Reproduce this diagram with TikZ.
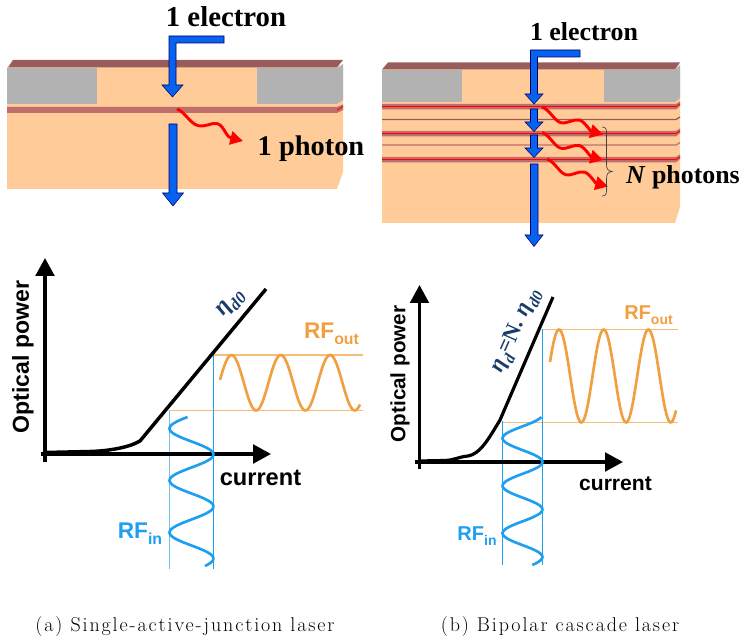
\documentclass[tikz,border=0pt]{standalone}
\usepackage{fontspec}
\usepackage{tikz}
\usetikzlibrary{arrows.meta}
\newfontfamily\serifbold{Liberation Serif}
\newfontfamily\sansbold{Liberation Sans}
\newfontfamily\capserif[LetterSpace=9.5]{Latin Modern Roman}
\newcommand{\rfsub}[1]{\raisebox{-0.28em}{\fontsize{0.7em}{0.7em}\selectfont #1}}
\definecolor{peach}{RGB}{255,204,153}
\definecolor{capgray}{RGB}{178,178,178}
\definecolor{capbrown}{RGB}{153,92,92}
\definecolor{bandrose}{RGB}{192,110,108}
\definecolor{elecblue}{RGB}{8,98,240}
\definecolor{rforange}{RGB}{240,160,64}
\definecolor{rfblue}{RGB}{30,159,240}
\definecolor{etanavy}{RGB}{25,60,110}
\tikzset{
  elecshape/.style={fill=elecblue,draw=black!60!blue,line width=0.4pt},
  photonline/.style={draw=red,line width=2.2pt,-{Triangle[length=9.5pt,width=10pt]}},
  axisline/.style={line width=2.6pt,-{Triangle[length=13.5pt,width=14pt]}},
  gaincurve/.style={line width=2.6pt},
  orangeguide/.style={draw=rforange!70,line width=0.8pt},
  blueguide/.style={draw=rfblue,line width=0.7pt},
  orangewave/.style={draw=rforange,line width=2pt},
  bluewave/.style={draw=rfblue,line width=2pt},
  eleclabel/.style={font=\serifbold\bfseries,inner sep=0pt},
  rflabel/.style={font=\sansbold\bfseries,inner sep=0pt},
  capnote/.style={font=\capserif\fontsize{15}{17}\selectfont,inner sep=0pt}
}
\begin{document}
\begin{tikzpicture}[x=0.75pt,y=0.75pt,yscale=-1,xscale=1]
\useasboundingbox (0,0) rectangle (740,641);

%Left wafer
\fill [peach] (7,67) -- (343,67) -- (343,172) -- (337,189) -- (7,189) -- cycle ;
\fill [capgray] (7,68) -- (97,68) -- (97,104) -- (7,104) -- cycle ;
\fill [capgray] (257,68) -- (337,68) -- (343,64) -- (343,100) -- (337,104) -- (257,104) -- cycle ;
\fill [capbrown] (13,60) -- (343,60) -- (337,67.5) -- (8,67.5) -- cycle ;
\fill [bandrose] (7,107) -- (337,107) -- (343,104.5) -- (343,110) -- (337,113) -- (7,113) -- cycle ;
\draw [red,line width=0.6pt] (337,110) -- (343,106.5) ;

%Left electron arrows
\draw [elecshape] (224,36) -- (224,43) -- (176,43) -- (176,85) -- (183,85) -- (172.5,97) -- (162,85) -- (169,85) -- (169,36) -- cycle ;
\draw [elecshape] (169,124) -- (177,124) -- (177,193) -- (183.5,193) -- (173,206) -- (162.5,193) -- (169,193) -- cycle ;

%Left photon
\coordinate (photonAstart) at (177,109);
\coordinate (photonAend) at (243,141);
\draw [photonline] (photonAstart) .. controls (186,112) and (191,127) .. (202,126) .. controls (212,125) and (216,120) .. (222,127) .. controls (226,132) and (227,137) .. (photonAend) ;

\node [eleclabel,font=\serifbold\bfseries\fontsize{21.6}{24}\selectfont] (electronA) at (226,17) {1 electron};
\node [eleclabel,font=\serifbold\bfseries\fontsize{21.3}{24}\selectfont] (photonA) at (311,149) {1 photon};

%Right wafer
\fill [peach] (382,69) -- (680,69) -- (680,207) -- (675,223) -- (382,223) -- cycle ;
\fill [capgray] (382,70) -- (462,70) -- (462,102) -- (382,102) -- cycle ;
\fill [capgray] (604,70) -- (675,70) -- (680,65) -- (680,98) -- (675,102) -- (604,102) -- cycle ;
\fill [capbrown] (388,62.5) -- (680,62.5) -- (675,69.5) -- (382,69.5) -- cycle ;
%Right bands
\foreach \bandy in {104,131,157}
  {
  \fill [bandrose] (382,\bandy) -- (676,\bandy) -- (680,\bandy-2.5) -- (680,\bandy+2) -- (676,\bandy+5.5) -- (382,\bandy+5.5) -- cycle ;
  \draw [red,line width=0.7pt] (382,\bandy+2.5) -- (676,\bandy+2.5) -- (680,\bandy) ;
  }
\draw [capbrown,line width=1pt] (382,119.5) -- (676,119.5) -- (680,117) ;
\draw [bandrose,line width=0.9pt] (382,145) -- (676,145) -- (680,142.5) ;

%Right electron arrows
\draw [elecshape] (580,50) -- (580,57) -- (537.5,57) -- (537.5,94) -- (543,94) -- (534,104) -- (525,94) -- (530.5,94) -- (530.5,50) -- cycle ;
\draw [elecshape] (530.5,109) -- (537.5,109) -- (537.5,122) -- (543,122) -- (534,131.5) -- (525,122) -- (530.5,122) -- cycle ;
\draw [elecshape] (530.5,135) -- (537.5,135) -- (537.5,148) -- (543,148) -- (534,157.5) -- (525,148) -- (530.5,148) -- cycle ;
\draw [elecshape] (530.5,164) -- (538,164) -- (538,235) -- (543,235) -- (534,246.5) -- (525,235) -- (530.5,235) -- cycle ;

%Right photons
\foreach \pname/\px/\py in {B/542/107,C/542/132.5,D/547/159}
  {
  \coordinate (photon\pname start) at (\px,\py);
  \coordinate (photon\pname end) at (\px+61,\py+27.5);
  \draw [photonline] (photon\pname start) .. controls (\px+9,\py+3) and (\px+13,\py+17) .. (\px+22,\py+16) .. controls (\px+32,\py+14) and (\px+36,\py+10) .. (\px+42,\py+16) .. controls (\px+47,\py+21) and (\px+48,\py+24) .. (photon\pname end) ;
  }

%Brace
\draw [black!75,line width=0.5pt] (602,127) .. controls (606,127) and (606.5,129) .. (606.5,133) -- (606.5,164) .. controls (606.5,169) and (608,171) .. (612,171.5) .. controls (608,172) and (606.5,174) .. (606.5,179) -- (606.5,190) .. controls (606.5,194) and (606,196) .. (602,196) ;

\node [eleclabel,font=\serifbold\bfseries\fontsize{19.4}{22}\selectfont] (electronB) at (584,32) {1 electron};
\node [eleclabel,font=\serifbold\bfseries\fontsize{19.4}{22}\selectfont] (photonB) at (683,177) {\textit{N} photons};

%Left plot
\coordinate (yaxAfoot) at (45,462);
\coordinate (yaxAtip) at (45,258);
\coordinate (xaxAfoot) at (41,454);
\coordinate (xaxAtip) at (271,454);
\draw [orangeguide] (213,355) -- (363,355) ;
\draw [orangeguide] (169,410.5) -- (363,410.5) ;
\draw [blueguide,rfblue!65,line width=1pt] (169.5,411) -- (169.5,569) ;
\draw [blueguide] (213.5,355) -- (213.5,569) ;
\draw [axisline] (yaxAfoot) -- (yaxAtip) ;
\draw [axisline] (xaxAfoot) -- (xaxAtip) ;
\draw [gaincurve] (45,452.5) -- (90,451.5) .. controls (110,451) and (130,447) .. (140,441) -- (266,289) ;
\draw [orangewave] plot [domain=220:360,samples=90,smooth] (\x,{382.75-27.75*cos(7.302*(\x-231.5))}) ;
\draw [bluewave] plot [domain=417:566,samples=90,smooth] ({191.5+22*cos(6.923*(\x-454.5))},\x) ;

\node [rflabel,rotate=90,font=\sansbold\bfseries\fontsize{17.3}{20}\selectfont] (powerA) at (23,357) {Optical power};
\node [rflabel,font=\sansbold\bfseries\fontsize{17.7}{20}\selectfont] (currentA) at (260.5,478) {current};
\node [rflabel,text=rforange,font=\sansbold\bfseries\fontsize{17}{20}\selectfont] (rfoutA) at (331.5,334) {RF\rfsub{out}};
\node [rflabel,text=rfblue,font=\sansbold\bfseries\fontsize{17}{20}\selectfont] (rfinA) at (140,534) {RF\rfsub{in}};
\node [inner sep=0pt,text=etanavy,rotate=50,font=\serifbold\bfseries\fontsize{18}{20}\selectfont] (etaA) at (231,304) {\textit{η\rfsub{d0}}};

%Right plot
\coordinate (yaxBfoot) at (419.5,469);
\coordinate (yaxBtip) at (419.5,285);
\coordinate (xaxBfoot) at (415,462);
\coordinate (xaxBtip) at (623,462);
\draw [orangeguide] (542,329.5) -- (678,329.5) ;
\draw [orangeguide] (502,422.5) -- (678,422.5) ;
\draw [blueguide] (502.5,421) -- (502.5,565) ;
\draw [blueguide] (542.5,329) -- (542.5,565) ;
\draw [axisline,line width=2.4pt] (yaxBfoot) -- (yaxBtip) ;
\draw [axisline,line width=2.4pt] (xaxBfoot) -- (xaxBtip) ;
\draw [gaincurve,line width=2.4pt] (420,461) -- (445,460.5) .. controls (455,460) and (458,457) .. (468,456) .. controls (480,454) and (488,440) .. (500,420) -- (553,297) ;
\draw [orangewave] plot [domain=550:676,samples=90,smooth] (\x,{376-46.5*cos(8.054*(\x-559))}) ;
\draw [bluewave] plot [domain=417:565,samples=90,smooth] ({522.5+20*cos(7.579*(\x-462))},\x) ;

\node [rflabel,rotate=90,font=\sansbold\bfseries\fontsize{15.5}{18}\selectfont] (powerB) at (400,374) {Optical power};
\node [rflabel,font=\sansbold\bfseries\fontsize{15.8}{18}\selectfont] (currentB) at (615.5,484) {current};
\node [rflabel,text=rforange,font=\sansbold\bfseries\fontsize{15}{18}\selectfont] (rfoutB) at (648.5,315) {RF\rfsub{out}};
\node [rflabel,text=rfblue,font=\sansbold\bfseries\fontsize{15}{18}\selectfont] (rfinB) at (477,536) {RF\rfsub{in}};
\node [inner sep=0pt,text=etanavy,rotate=66,font=\serifbold\bfseries\fontsize{17}{18}\selectfont] (etaB) at (516,331) {\textit{η\rfsub{d}}=N. \textit{η\rfsub{d0}}};

%Captions
\node [capnote] (captionA) at (185,627) {(a) Single-active-junction laser};
\node [capnote] (captionB) at (560,627) {(b) Bipolar cascade laser};

\end{tikzpicture}
\end{document}
